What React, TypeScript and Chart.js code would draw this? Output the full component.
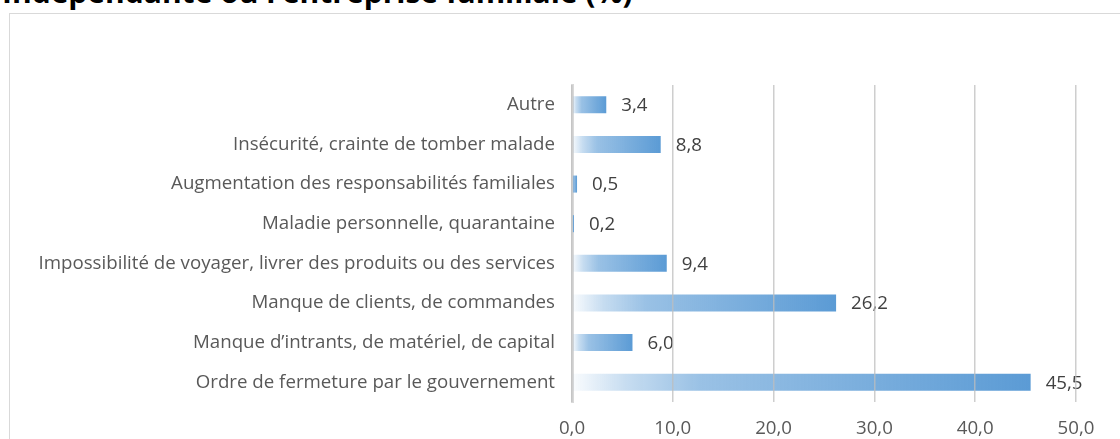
import React, { useEffect, useRef } from "react";
import { Chart, registerables } from "chart.js";

Chart.register(...registerables);

const titleText = "Indépendante ou l’entreprise familiale (%)";
const categories = [
  "Autre",
  "Insécurité, crainte de tomber malade",
  "Augmentation des responsabilités familiales",
  "Maladie personnelle, quarantaine",
  "Impossibilité de voyager, livrer des produits ou des services",
  "Manque de clients, de commandes",
  "Manque d’intrants, de matériel, de capital",
  "Ordre de fermeture par le gouvernement",
];
const values = [3.4, 8.8, 0.5, 0.2, 9.4, 26.2, 6.0, 45.5];
const xTicks = [0, 10, 20, 30, 40, 50];

const FONT = "'Open Sans', 'DejaVu Sans', sans-serif";
const FS = 18.7;
const fmt = (v: number) => v.toFixed(1).replace(".", ",");

const valueLabels = {
  id: "valueLabels",
  afterDatasetsDraw(chart: any) {
    const ctx = chart.ctx;
    const meta = chart.getDatasetMeta(0);
    ctx.save();
    ctx.font = `${FS}px ${FONT}`;
    ctx.fillStyle = "#404040";
    ctx.textAlign = "left";
    ctx.textBaseline = "middle";
    meta.data.forEach((el: any, i: number) => {
      ctx.fillText(fmt(values[i]), el.x + 15, el.y + 1);
    });
    ctx.restore();
  },
};

export default function App() {
  const ref = useRef<HTMLCanvasElement>(null);
  useEffect(() => {
    if (!ref.current) return;
    const chart = new Chart(ref.current, {
      type: "bar",
      data: {
        labels: categories,
        datasets: [
          {
            data: values,
            barPercentage: 0.43,
            categoryPercentage: 1,
            borderWidth: 0,
            backgroundColor: (c: any) => {
              const ch = c.chart;
              const xs = ch.scales?.x;
              if (!xs || c.type !== "data") return "#5B9BD5";
              const x0 = xs.getPixelForValue(0);
              const x1 = xs.getPixelForValue(values[c.dataIndex]);
              if (!isFinite(x0) || !isFinite(x1) || x1 - x0 < 1) return "#5B9BD5";
              const g = ch.ctx.createLinearGradient(x0, 0, x1, 0);
              g.addColorStop(0, "rgba(91,155,213,0.03)");
              g.addColorStop(0.12, "rgba(91,155,213,0.35)");
              g.addColorStop(0.28, "rgba(91,155,213,0.62)");
              g.addColorStop(1, "rgba(91,155,213,1)");
              return g;
            },
          },
        ],
      },
      options: {
        indexAxis: "y",
        animation: false,
        responsive: false,
        maintainAspectRatio: false,
        layout: { padding: { top: 85, right: 44, bottom: 0, left: 0 } },
        plugins: { legend: { display: false }, tooltip: { enabled: false } },
        scales: {
          x: {
            min: 0,
            max: 50,
            afterBuildTicks: (s: any) => {
              s.ticks = xTicks.map((v) => ({ value: v }));
            },
            afterFit: (s: any) => {
              s.height = 37;
            },
            ticks: {
              font: { family: FONT, size: FS },
              color: "#595959",
              padding: 15,
              maxRotation: 0,
              callback: (v: any) => fmt(Number(v)),
            },
            grid: { color: "rgba(190,190,190,0.75)", lineWidth: 1.5, drawTicks: false, z: 1 },
            border: { display: false },
          },
          y: {
            afterFit: (s: any) => {
              s.width = 572;
            },
            ticks: {
              font: { family: FONT, size: FS },
              color: "#595959",
              padding: 17,
            },
            grid: { display: false, drawTicks: false },
            border: { display: true, color: "#d9d9d9", width: 3 },
          },
        },
      },
      plugins: [valueLabels],
    });
    return () => chart.destroy();
  }, []);

  return (
    <div
      style={{
        position: "fixed",
        left: 0,
        top: 0,
        width: 1120,
        height: 439,
        overflow: "hidden",
        background: "#fff",
      }}
    >
      <div
        style={{
          position: "absolute",
          left: 2,
          top: -23,
          fontFamily: FONT,
          fontWeight: 700,
          fontSize: 30,
          lineHeight: "30px",
          color: "#000",
          whiteSpace: "nowrap",
        }}
      >
        {titleText}
      </div>
      <div
        style={{
          position: "absolute",
          left: 9,
          top: 13,
          width: 1300,
          height: 600,
          border: "1px solid #d9d9d9",
          boxSizing: "border-box",
        }}
      />
      <canvas
        ref={ref}
        width={1120}
        height={439}
        style={{ position: "absolute", left: 0, top: 0, width: 1120, height: 439 }}
      />
    </div>
  );
}
